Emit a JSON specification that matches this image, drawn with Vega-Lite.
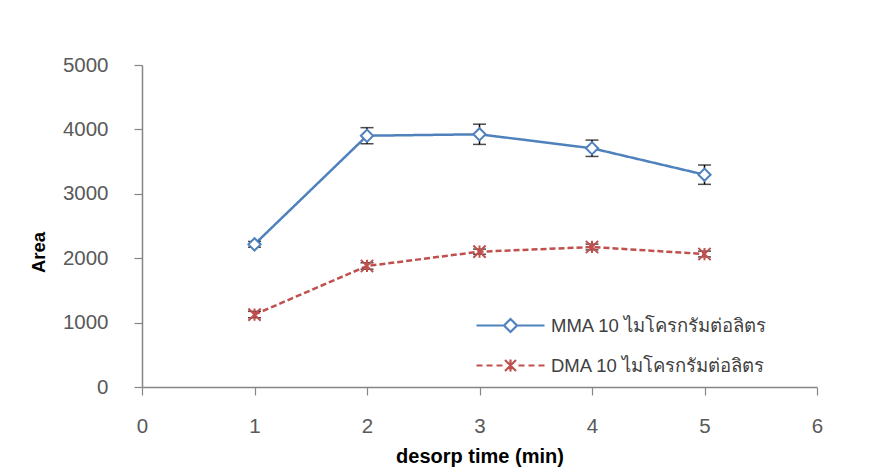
{
  "$schema": "https://vega.github.io/schema/vega-lite/v6.json",
  "width": 675,
  "height": 322,
  "autosize": {"type": "none"},
  "padding": {"left": 142, "top": 65, "right": 55, "bottom": 87},
  "background": "white",
  "config": {
    "view": {"stroke": null},
    "font": "Liberation Sans",
    "axis": {
      "domainColor": "#868686",
      "domainWidth": 1.5,
      "tickColor": "#868686",
      "tickWidth": 1.2,
      "tickSize": 8,
      "grid": false,
      "labelFont": "Liberation Sans",
      "labelFontSize": 20.5,
      "labelColor": "#595959",
      "titleFont": "Liberation Sans",
      "titleFontWeight": "bold",
      "titleColor": "#000000"
    }
  },
  "data": {
    "values": [
      {"series": "MMA 10 ไมโครกรัมต่อลิตร", "time": 1, "area": 2215, "err": 45},
      {"series": "MMA 10 ไมโครกรัมต่อลิตร", "time": 2, "area": 3902, "err": 125},
      {"series": "MMA 10 ไมโครกรัมต่อลิตร", "time": 3, "area": 3924, "err": 157},
      {"series": "MMA 10 ไมโครกรัมต่อลิตร", "time": 4, "area": 3707, "err": 127},
      {"series": "MMA 10 ไมโครกรัมต่อลิตร", "time": 5, "area": 3297, "err": 150},
      {"series": "DMA 10 ไมโครกรัมต่อลิตร", "time": 1, "area": 1125, "err": 50},
      {"series": "DMA 10 ไมโครกรัมต่อลิตร", "time": 2, "area": 1879, "err": 50},
      {"series": "DMA 10 ไมโครกรัมต่อลิตร", "time": 3, "area": 2101, "err": 40},
      {"series": "DMA 10 ไมโครกรัมต่อลิตร", "time": 4, "area": 2174, "err": 45},
      {"series": "DMA 10 ไมโครกรัมต่อลิตร", "time": 5, "area": 2065, "err": 45}
    ]
  },
  "encoding": {
    "x": {
      "field": "time",
      "type": "quantitative",
      "scale": {"domain": [0, 6], "nice": false, "zero": false},
      "axis": {"values": [0, 1, 2, 3, 4, 5, 6], "title": "desorp  time (min)", "titleFontSize": 20, "labelPadding": 21, "titlePadding": 10, "labelFlush": false}
    },
    "y": {
      "field": "area",
      "type": "quantitative",
      "scale": {"domain": [0, 5000], "nice": false},
      "axis": {"values": [0, 1000, 2000, 3000, 4000, 5000], "format": "d", "title": "Area", "titleFontSize": 18.5, "labelPadding": 26, "titlePadding": 14, "titleY": 187, "labelFlush": false}
    }
  },
  "resolve": {"scale": {"color": "independent", "shape": "independent", "strokeDash": "independent"}},
  "layer": [
    {
      "mark": {"type": "line", "strokeWidth": 2.5},
      "encoding": {
        "color": {
          "field": "series",
          "type": "nominal",
          "scale": {"domain": ["MMA 10 ไมโครกรัมต่อลิตร", "DMA 10 ไมโครกรัมต่อลิตร"], "range": ["#4F81BD", "#C0504D"]},
          "legend": null
        },
        "strokeDash": {
          "field": "series",
          "type": "nominal",
          "scale": {"domain": ["MMA 10 ไมโครกรัมต่อลิตร", "DMA 10 ไมโครกรัมต่อลิตร"], "range": [[1, 0], [6, 3]]},
          "legend": null
        }
      }
    },
    {
      "mark": {"type": "errorbar", "ticks": {"size": 13, "thickness": 1.5}, "color": "black", "thickness": 1.5},
      "encoding": {
        "yError": {"field": "err"},
        "detail": {"field": "series", "type": "nominal"}
      }
    },
    {
      "mark": {"type": "point", "filled": false, "strokeWidth": 2, "size": 150, "fill": "white", "fillOpacity": 1, "opacity": 1},
      "encoding": {
        "color": {
          "field": "series",
          "type": "nominal",
          "scale": {"domain": ["MMA 10 ไมโครกรัมต่อลิตร", "DMA 10 ไมโครกรัมต่อลิตร"], "range": ["#4F81BD", "#C0504D"]},
          "legend": null
        },
        "shape": {
          "field": "series",
          "type": "nominal",
          "scale": {"domain": ["MMA 10 ไมโครกรัมต่อลิตร", "DMA 10 ไมโครกรัมต่อลิตร"], "range": ["diamond", "M-1,-1L1,1M-1,1L1,-1M0,-1V1"]},
          "legend": null
        }
      }
    },
    {
      "transform": [{"filter": "datum.time > 100"}],
      "mark": {"type": "point", "filled": false, "strokeWidth": 2.2, "size": 400, "opacity": 1},
      "encoding": {
        "color": {
          "field": "series",
          "type": "nominal",
          "scale": {"domain": ["MMA 10 ไมโครกรัมต่อลิตร", "DMA 10 ไมโครกรัมต่อลิตร"], "range": ["#4F81BD", "#C0504D"]},
          "legend": {
            "title": null,
            "orient": "none",
            "legendX": 357,
            "legendY": 249,
            "padding": 0,
            "symbolSize": 400,
            "symbolStrokeWidth": 2.2,
            "labelOffset": 29,
            "rowPadding": 17,
            "labelFontSize": 18.5,
            "labelColor": "#404040",
            "labelFont": "Liberation Sans",
            "labelLimit": 400
          }
        },
        "shape": {
          "field": "series",
          "type": "nominal",
          "scale": {"domain": ["MMA 10 ไมโครกรัมต่อลิตร", "DMA 10 ไมโครกรัมต่อลิตร"], "range": ["M-3.4,0H-0.65M0.65,0H3.4M0,-0.65L0.65,0L0,0.65L-0.65,0Z", "M-3.4,0H-2.8M-2.4,0H-1.8M-1.4,0H-0.8M0.8,0H1.4M1.8,0H2.4M2.8,0H3.4M-0.55,-0.55L0.55,0.55M-0.55,0.55L0.55,-0.55M0,-0.6V0.6"]},
          "legend": {
            "title": null,
            "orient": "none",
            "legendX": 357,
            "legendY": 249,
            "padding": 0,
            "symbolSize": 400,
            "symbolStrokeWidth": 2.2,
            "labelOffset": 29,
            "rowPadding": 17,
            "labelFontSize": 18.5,
            "labelColor": "#404040",
            "labelFont": "Liberation Sans",
            "labelLimit": 400
          }
        }
      }
    }
  ]
}
